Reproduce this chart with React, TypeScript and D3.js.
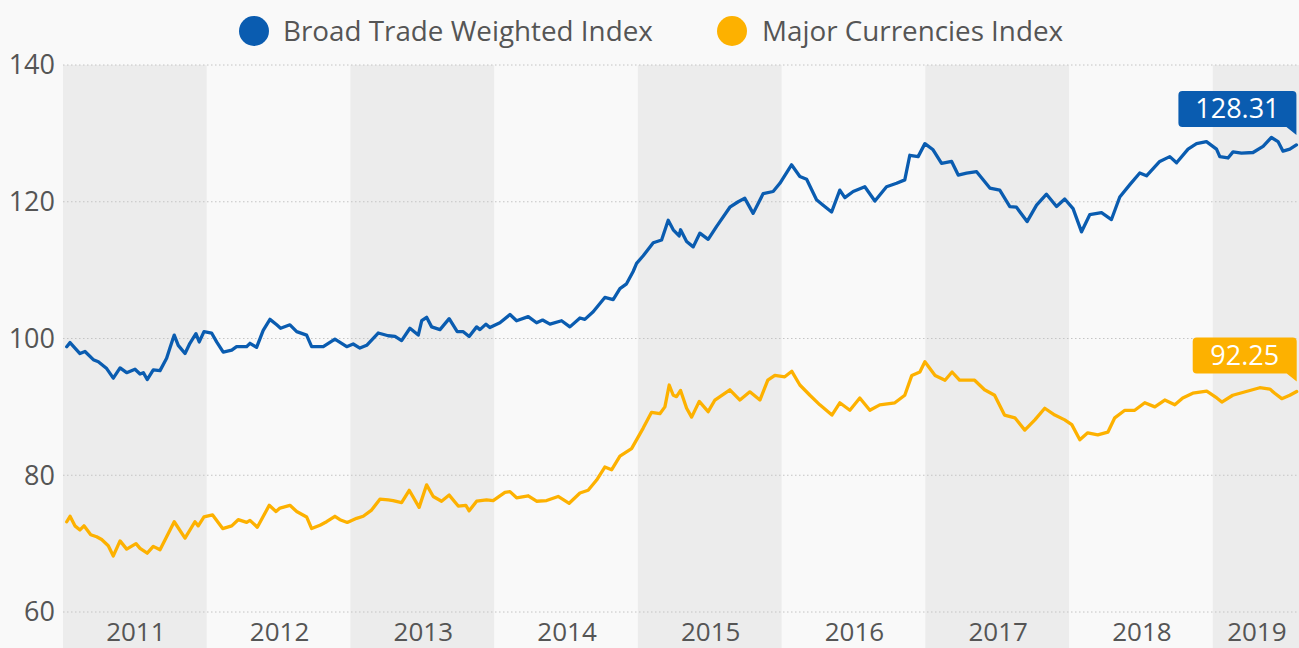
import React from "react";
import * as d3 from "d3";

const years = [2011, 2012, 2013, 2014, 2015, 2016, 2017, 2018, 2019];
const yTicks = [60, 80, 100, 120, 140];
const seriesNames = ["Broad Trade Weighted Index", "Major Currencies Index"];

// [decimal year, index value]
const broadIndex: [number, number][] = [
  [2011.026, 98.8], [2011.049, 99.4], [2011.118, 97.8], [2011.153, 98.1], [2011.211, 96.9],
  [2011.246, 96.6], [2011.304, 95.6], [2011.35, 94.2], [2011.397, 95.7], [2011.443, 95.0],
  [2011.501, 95.5], [2011.536, 94.8], [2011.559, 95.0], [2011.586, 94.0], [2011.628, 95.4],
  [2011.675, 95.3], [2011.721, 97.1], [2011.744, 98.6], [2011.774, 100.5], [2011.802, 99.0],
  [2011.849, 97.8], [2011.883, 99.3], [2011.925, 100.7], [2011.948, 99.5], [2011.981, 101.0],
  [2012.034, 100.8], [2012.069, 99.5], [2012.115, 98.0], [2012.174, 98.3], [2012.208, 98.8],
  [2012.278, 98.8], [2012.301, 99.3], [2012.347, 98.7], [2012.393, 101.2], [2012.44, 102.8],
  [2012.487, 102.0], [2012.514, 101.5], [2012.579, 102.0], [2012.626, 101.0], [2012.695, 100.5],
  [2012.73, 98.8], [2012.811, 98.8], [2012.892, 99.9], [2012.974, 98.8], [2013.019, 99.2],
  [2013.066, 98.6], [2013.113, 99.0], [2013.193, 100.8], [2013.263, 100.4], [2013.31, 100.3],
  [2013.356, 99.7], [2013.414, 101.5], [2013.472, 100.5], [2013.496, 102.6], [2013.53, 103.1],
  [2013.565, 101.7], [2013.623, 101.3], [2013.687, 102.9], [2013.743, 101.0], [2013.785, 101.0],
  [2013.826, 100.3], [2013.878, 101.7], [2013.901, 101.3], [2013.943, 102.1], [2013.97, 101.6],
  [2014.04, 102.3], [2014.11, 103.5], [2014.156, 102.6], [2014.237, 103.2], [2014.295, 102.3],
  [2014.337, 102.7], [2014.388, 102.1], [2014.469, 102.6], [2014.527, 101.7], [2014.597, 103.0],
  [2014.631, 102.8], [2014.689, 103.9], [2014.77, 106.0], [2014.828, 105.7], [2014.875, 107.3],
  [2014.921, 108.0], [2014.967, 109.8], [2014.991, 111.0], [2015.037, 112.1], [2015.107, 114.0],
  [2015.165, 114.4], [2015.211, 117.3], [2015.246, 115.9], [2015.287, 115.0], [2015.297, 115.9],
  [2015.339, 114.2], [2015.385, 113.4], [2015.431, 115.4], [2015.489, 114.5], [2015.548, 116.4],
  [2015.64, 119.2], [2015.698, 120.0], [2015.744, 120.5], [2015.802, 118.3], [2015.872, 121.2],
  [2015.941, 121.5], [2015.988, 122.7], [2016.069, 125.4], [2016.127, 123.7], [2016.174, 123.3],
  [2016.243, 120.3], [2016.289, 119.5], [2016.348, 118.5], [2016.405, 121.7], [2016.44, 120.6],
  [2016.498, 121.5], [2016.579, 122.2], [2016.649, 120.1], [2016.73, 122.2], [2016.8, 122.7],
  [2016.857, 123.2], [2016.892, 126.8], [2016.95, 126.6], [2016.997, 128.5], [2017.054, 127.6],
  [2017.113, 125.6], [2017.183, 125.9], [2017.229, 123.9], [2017.287, 124.2], [2017.357, 124.4],
  [2017.449, 122.0], [2017.518, 121.7], [2017.588, 119.3], [2017.634, 119.2], [2017.708, 117.1],
  [2017.774, 119.5], [2017.843, 121.1], [2017.913, 119.3], [2017.97, 120.4], [2018.028, 119.0],
  [2018.087, 115.6], [2018.144, 118.1], [2018.226, 118.4], [2018.295, 117.4], [2018.353, 120.7],
  [2018.423, 122.5], [2018.492, 124.2], [2018.539, 123.8], [2018.631, 125.9], [2018.701, 126.6],
  [2018.748, 125.7], [2018.828, 127.7], [2018.887, 128.5], [2018.956, 128.8], [2019.026, 127.7],
  [2019.049, 126.6], [2019.106, 126.4], [2019.141, 127.3], [2019.2, 127.1], [2019.28, 127.2],
  [2019.35, 128.1], [2019.408, 129.4], [2019.454, 128.8], [2019.489, 127.4], [2019.536, 127.7],
  [2019.582, 128.31],
];

const majorIndex: [number, number][] = [
  [2011.026, 73.2], [2011.049, 74.0], [2011.083, 72.6], [2011.118, 72.0], [2011.146, 72.6],
  [2011.193, 71.3], [2011.234, 71.0], [2011.269, 70.6], [2011.315, 69.7], [2011.35, 68.2],
  [2011.397, 70.4], [2011.443, 69.2], [2011.508, 70.0], [2011.536, 69.3], [2011.586, 68.6],
  [2011.628, 69.6], [2011.675, 69.1], [2011.721, 71.0], [2011.774, 73.2], [2011.849, 70.8],
  [2011.918, 73.2], [2011.941, 72.6], [2011.981, 73.9], [2012.041, 74.2], [2012.111, 72.2],
  [2012.174, 72.6], [2012.219, 73.5], [2012.278, 73.1], [2012.301, 73.4], [2012.352, 72.4],
  [2012.435, 75.6], [2012.482, 74.7], [2012.51, 75.2], [2012.579, 75.6], [2012.626, 74.7],
  [2012.695, 73.9], [2012.73, 72.2], [2012.788, 72.7], [2012.834, 73.2], [2012.892, 74.0],
  [2012.927, 73.5], [2012.978, 73.1], [2013.043, 73.7], [2013.089, 74.0], [2013.147, 74.9],
  [2013.205, 76.5], [2013.263, 76.4], [2013.297, 76.3], [2013.356, 76.0], [2013.409, 77.8],
  [2013.478, 75.3], [2013.53, 78.6], [2013.576, 76.9], [2013.634, 76.2], [2013.687, 77.1],
  [2013.75, 75.5], [2013.803, 75.6], [2013.826, 74.8], [2013.878, 76.2], [2013.947, 76.4],
  [2013.993, 76.3], [2014.075, 77.5], [2014.11, 77.6], [2014.156, 76.7], [2014.237, 77.0],
  [2014.295, 76.2], [2014.365, 76.3], [2014.445, 76.9], [2014.522, 75.9], [2014.597, 77.4],
  [2014.654, 77.8], [2014.713, 79.3], [2014.77, 81.2], [2014.817, 80.8], [2014.875, 82.8],
  [2014.956, 83.9], [2015.037, 86.9], [2015.095, 89.2], [2015.153, 89.0], [2015.188, 90.0],
  [2015.218, 93.2], [2015.246, 91.7], [2015.269, 91.5], [2015.297, 92.4], [2015.339, 89.8],
  [2015.374, 88.5], [2015.427, 90.8], [2015.489, 89.3], [2015.536, 91.0], [2015.64, 92.5],
  [2015.71, 91.0], [2015.779, 92.2], [2015.849, 91.0], [2015.904, 93.9], [2015.953, 94.6],
  [2016.022, 94.4], [2016.071, 95.2], [2016.127, 93.2], [2016.197, 91.7], [2016.266, 90.3],
  [2016.35, 88.8], [2016.405, 90.6], [2016.475, 89.5], [2016.544, 91.3], [2016.614, 89.5],
  [2016.683, 90.3], [2016.788, 90.6], [2016.857, 91.7], [2016.906, 94.6], [2016.962, 95.1],
  [2016.997, 96.6], [2017.068, 94.6], [2017.137, 93.9], [2017.186, 95.1], [2017.238, 93.9],
  [2017.343, 93.9], [2017.412, 92.5], [2017.482, 91.7], [2017.551, 88.8], [2017.623, 88.4],
  [2017.692, 86.6], [2017.762, 88.1], [2017.831, 89.8], [2017.901, 88.8], [2017.97, 88.1],
  [2018.019, 87.4], [2018.075, 85.2], [2018.13, 86.2], [2018.2, 85.9], [2018.27, 86.3],
  [2018.318, 88.4], [2018.388, 89.5], [2018.457, 89.5], [2018.527, 90.6], [2018.597, 90.0],
  [2018.666, 91.0], [2018.736, 90.3], [2018.791, 91.3], [2018.861, 92.0], [2018.958, 92.3],
  [2019.028, 91.3], [2019.063, 90.7], [2019.139, 91.7], [2019.258, 92.4], [2019.327, 92.8],
  [2019.397, 92.6], [2019.431, 92.0], [2019.48, 91.2], [2019.536, 91.7], [2019.584, 92.25],
];

const BLUE = "#0a5cb0";
const YELLOW = "#fdb100";
const TEXT = "#555555";
const FONT = "'Open Sans', sans-serif";

const W = 1299;
const H = 648;
const left = 63;
const right = 1299;
const top = 65;
const bottom = 612;

export default function App() {
  const x = d3.scaleLinear().domain([2011, 2019.6]).range([left, right]);
  const y = d3.scaleLinear().domain([60, 140]).range([bottom, top]);
  const line = d3
    .line<[number, number]>()
    .x((d) => x(d[0]))
    .y((d) => y(d[1]))
    .curve(d3.curveLinear);

  const series = [
    { name: seriesNames[0], data: broadIndex, color: BLUE, boxW: 118 },
    { name: seriesNames[1], data: majorIndex, color: YELLOW, boxW: 104 },
  ];

  const callout = (data: [number, number][], color: string, boxW: number, key: string) => {
    const last = data[data.length - 1];
    const px = Math.min(x(last[0]), right - 2);
    const py = y(last[1]);
    const tipY = py - 10;
    const boxB = tipY - 8;
    const boxT = boxB - 36;
    const x1 = px;
    const x0 = x1 - boxW;
    const r = 4;
    const d = `M${x0 + r},${boxT} H${x1 - r} Q${x1},${boxT} ${x1},${boxT + r} V${tipY} L${x1 - 10},${boxB} H${x0 + r} Q${x0},${boxB} ${x0},${boxB - r} V${boxT + r} Q${x0},${boxT} ${x0 + r},${boxT} Z`;
    return (
      <g key={key}>
        <path d={d} fill={color} />
        <text
          x={(x0 + x1) / 2}
          y={(boxT + boxB) / 2}
          dy="0.35em"
          textAnchor="middle"
          fill="#ffffff"
          fontSize={27}
          fontFamily={FONT}
          fontWeight={500}
        >
          {last[1].toFixed(2)}
        </text>
      </g>
    );
  };

  return (
    <svg
      width={W}
      height={H}
      style={{ position: "fixed", left: 0, top: 0, background: "#f9f9f9" }}
    >
      <rect x={0} y={0} width={W} height={H} fill="#f9f9f9" />
      {years.map((yr, i) =>
        i % 2 === 0 ? (
          <rect
            key={"band" + yr}
            x={x(yr)}
            y={top}
            width={Math.min(x(yr + 1), right) - x(yr)}
            height={H - top}
            fill="#ececec"
          />
        ) : null
      )}
      {yTicks.map((t) => (
        <g key={"g" + t}>
          <line
            x1={left}
            x2={right}
            y1={y(t)}
            y2={y(t)}
            stroke="#c4c4c4"
            strokeWidth={1}
            strokeDasharray="1.5,2.5"
          />
          <text
            x={55}
            y={y(t)}
            dy="0.35em"
            textAnchor="end"
            fill={TEXT}
            fontSize={27}
            fontFamily={FONT}
          >
            {t}
          </text>
        </g>
      ))}
      {years.map((yr) => {
        const cx = (x(yr) + Math.min(x(yr + 1), right)) / 2;
        return (
          <text
            key={"yl" + yr}
            x={cx + 1}
            y={641}
            fill={TEXT}
            textAnchor="middle"
            fontSize={26}
            fontFamily={FONT}
          >
            {yr}
          </text>
        );
      })}
      {series.map((s) => (
        <path
          key={s.name}
          d={line(s.data) || ""}
          fill="none"
          stroke={s.color}
          strokeWidth={3.3}
          strokeLinejoin="round"
          strokeLinecap="round"
        />
      ))}
      {series.map((s) => callout(s.data, s.color, s.boxW, "c" + s.name))}
      <g>
        <circle cx={254} cy={31} r={15} fill={BLUE} />
        <text x={283} y={31} dy="0.35em" fill={TEXT} fontSize={27.8} fontFamily={FONT}>
          {seriesNames[0]}
        </text>
        <circle cx={732} cy={31} r={15} fill={YELLOW} />
        <text x={762} y={31} dy="0.35em" fill={TEXT} fontSize={27.8} fontFamily={FONT}>
          {seriesNames[1]}
        </text>
      </g>
    </svg>
  );
}
